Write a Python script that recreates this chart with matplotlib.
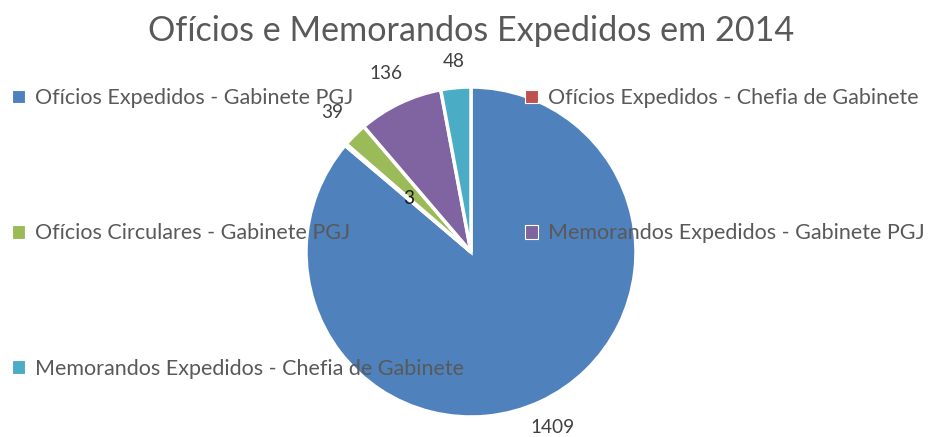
import numpy as np
import matplotlib
matplotlib.use("Agg")
import matplotlib.pyplot as plt
from matplotlib.patches import Patch

categories = [
    "Ofícios Expedidos - Gabinete PGJ",
    "Ofícios Expedidos - Chefia de Gabinete",
    "Ofícios Circulares - Gabinete PGJ",
    "Memorandos Expedidos - Gabinete PGJ",
    "Memorandos Expedidos - Chefia de Gabinete",
]
values = [1409, 3, 39, 136, 48]
title = "Ofícios e Memorandos Expedidos em 2014"

colors = ["#4F81BD", "#C0504D", "#9BBB59", "#8064A2", "#4BACC6"]
label_dist = [1.17, 0.50, 1.19, 1.20, 1.16]
label_colors = ["#404040", "#1a1a1a", "#404040", "#404040", "#404040"]
text_color = "#595959"

plt.rcParams["font.family"] = ["Lato", "DejaVu Sans"]

W, H = 931, 437
fig = plt.figure(figsize=(W / 100, H / 100), dpi=100)
renderer = fig.canvas.get_renderer()


def fit_size(txt, target_px, base=20):
    t = fig.text(0, 0, txt, fontsize=base)
    w = t.get_window_extent(renderer).width
    t.remove()
    return base * target_px / w


# Title
fig.text(471 / W, 1 - 31 / H, title, ha="center", va="center",
         color=text_color, fontsize=fit_size(title, 647))

# Pie
cx, cy, r = 471, 252, 165
ax = fig.add_axes([(cx - r) / W, (H - cy - r) / H, 2 * r / W, 2 * r / H])
wedges, _ = ax.pie(values, colors=colors, startangle=90, counterclock=False,
                   wedgeprops=dict(edgecolor="white", linewidth=2.5))
ax.set_xlim(-1, 1)
ax.set_ylim(-1, 1)
ax.axis("off")

lab_fs = fit_size("136", 33)
for w, v, d, c in zip(wedges, values, label_dist, label_colors):
    a = np.deg2rad((w.theta1 + w.theta2) / 2)
    ax.text(d * np.cos(a), d * np.sin(a), str(v), ha="center", va="center",
            fontsize=lab_fs, color=c, clip_on=False)

# Legend: two columns placed independently, row-major order like reference
leg_fs = fit_size(categories[0], 318)
handles = [Patch(facecolor=c, edgecolor="white", linewidth=0.8) for c in colors]
columns = [([0, 2, 4], 12), ([1, 3], 525)]
for idx, x0 in columns:
    lg = fig.legend([handles[i] for i in idx], [categories[i] for i in idx],
                    loc="upper left", bbox_to_anchor=(x0 / W, 1 - 88 / H),
                    frameon=False, fontsize=leg_fs, borderpad=0, borderaxespad=0,
                    handlelength=0.6, handleheight=0.6, handletextpad=0.45,
                    labelspacing=5.37, labelcolor=text_color)

fig.savefig("out.png", dpi=100, facecolor="white")
